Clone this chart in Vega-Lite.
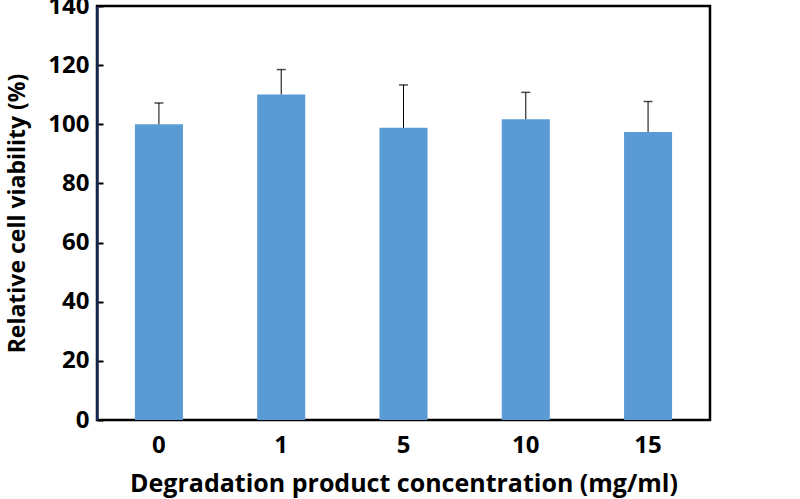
{
  "$schema": "https://vega.github.io/schema/vega-lite/v6.json",
  "autosize": {"type": "none"},
  "padding": {"left": 97, "top": 6, "right": 90, "bottom": 79},
  "width": 613,
  "height": 414,
  "background": "white",
  "config": {
    "view": {"stroke": "black", "strokeWidth": 2.5},
    "font": "Open Sans"
  },
  "data": {
    "values": [
      {"conc": "0", "viability": 100, "upper": 107.2},
      {"conc": "1", "viability": 110.1, "upper": 118.5},
      {"conc": "5", "viability": 98.8, "upper": 113.3},
      {"conc": "10", "viability": 101.7, "upper": 110.8},
      {"conc": "15", "viability": 97.4, "upper": 107.7}
    ]
  },
  "encoding": {
    "x": {
      "field": "conc",
      "type": "nominal",
      "sort": null,
      "scale": {"paddingInner": 0.607, "paddingOuter": 0.31},
      "axis": {
        "title": "Degradation product concentration (mg/ml)",
        "titleFontSize": 25,
        "titleFontWeight": "bold",
        "titleColor": "black",
        "titlePadding": 14,
        "labelAngle": 0,
        "labelFontSize": 24,
        "labelFontWeight": "bold",
        "labelColor": "black",
        "labelPadding": 13,
        "ticks": false,
        "domain": false
      }
    }
  },
  "layer": [
    {
      "mark": {"type": "bar", "color": "#5B9BD5"},
      "encoding": {
        "y": {
          "field": "viability",
          "type": "quantitative",
          "scale": {"domain": [0, 140]},
          "axis": {
            "title": "Relative cell viability (%)",
            "titleFontSize": 23,
            "titleFontWeight": "bold",
            "titleColor": "black",
            "titlePadding": 18,
            "values": [0, 20, 40, 60, 80, 100, 120, 140],
            "labelFontSize": 24,
            "labelFontWeight": "bold",
            "labelColor": "black",
            "tickSize": -6,
            "tickColor": "black",
            "tickWidth": 2,
            "labelPadding": 14,
            "grid": false,
            "domainColor": "#1a2a5a",
            "domainWidth": 2.5
          }
        }
      }
    },
    {
      "mark": {"type": "rule", "color": "black", "strokeWidth": 1},
      "encoding": {
        "y": {"field": "viability", "type": "quantitative"},
        "y2": {"field": "upper"}
      }
    },
    {
      "mark": {"type": "tick", "color": "black", "thickness": 1.5, "size": 9},
      "encoding": {
        "y": {"field": "upper", "type": "quantitative"}
      }
    }
  ]
}
